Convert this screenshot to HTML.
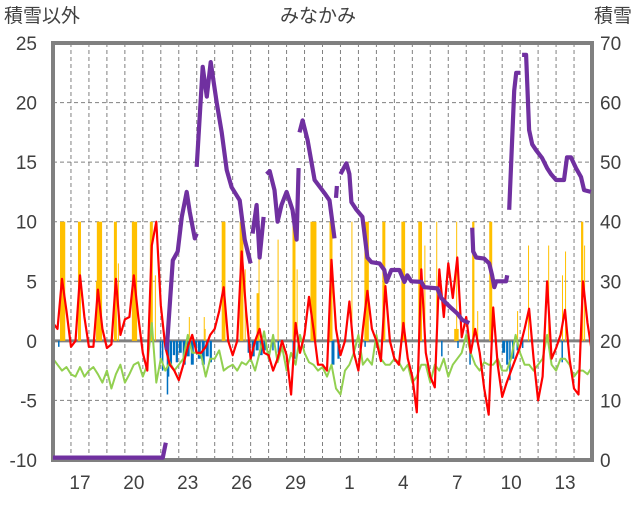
<!DOCTYPE html>
<html><head><meta charset="utf-8"><style>
body{margin:0;background:#fff;width:636px;height:501px;overflow:hidden}
svg text{font-family:"Liberation Sans","Noto Sans CJK JP",sans-serif;font-size:19px;fill:#404040}
</style></head><body>
<svg id="chart" width="636" height="501" xmlns="http://www.w3.org/2000/svg">
<g id="grid"></g>
<g id="bars"></g>
<g id="lines"></g>
<rect x="53" y="43" width="539" height="417" fill="none" stroke="#808080" stroke-width="4"/>
<g id="topLayer"></g>
<g id="labels"></g>
<text x="4" y="22">積雪以外</text>
<text x="318" y="22" text-anchor="middle">みなかみ</text>
<text x="632" y="22" text-anchor="end">積雪</text>
</svg>
<script>
const leftTicks=[25,20,15,10,5,0,-5,-10];
const rightTicks=[70,60,50,40,30,20,10,0];
const dayLabels=["17","20","23","26","29","1","4","7","10","13"];
const dayLabelIdx=[1,4,7,10,13,16,19,22,25,28];
const tempVals=[1.5,1,5.2,2.5,-0.5,0,5.5,2,-0.5,-0.5,4.3,1,-0.6,-0.3,5.2,0.5,1.8,2,5.5,2,-1,-2.5,8,10,3,-0.5,-2,-2.5,-3.3,-2,-0.5,0.5,-1,-1,-0.5,0.5,1,2.5,4.5,0,-1.2,0,7.5,2.5,-1.5,0,1,-1,-1.2,-2.5,-1.5,0,-1.2,-4.5,1.5,-1,0.5,3.7,1,-2,-2,-2.5,6.8,1,-1.2,0,3.3,-1,-2.5,1,4.2,1,0,-1.7,4.6,0,-1.5,-2,1.5,-1.5,-3,-6,6,-1,-3,-3.9,6,2,6.5,3.6,7,0.3,2,-1,1,-1,-4,-6.2,2.8,-2,-4.7,-3.5,-2.5,-1.5,-0.5,1,2.7,-1.5,-5,-3,5,-1.5,-0.6,0.5,2.6,-1.5,-4,-4.5,5,1.5,-1];
const greenVals=[-1.5,-2,-2.5,-2.2,-2.8,-3,-2.2,-3,-2.5,-2.2,-2.8,-3.5,-2.5,-4,-2.8,-2,-3.5,-2.8,-2,-1.8,-3,-2,1.5,-3.5,-1.5,-2.5,-1.8,-2.5,-2,-1.5,0.5,-1,-1,-1.2,-3,-1.5,-1.5,-0.8,-2.5,-2.2,-2,-2.5,-1.8,-2,-1.5,-2.5,-1,0.8,-1.5,0.5,-1.8,-0.5,-2.5,-1,-2,0.5,-1,-1.8,-2,-2.5,-2.2,-3,-2,-4,-4.5,-2.5,-2,-1,0.5,-2,-1.5,-2,0.5,-1.5,-2,-2,-1.5,-1.8,-2.5,-2,-3.5,-3,-2,-2,-3.5,-2,-2.5,-1.5,-3,-2,-1.5,-1,0.5,-1,-2,-2.5,-1.8,-2,-2,-1.5,-2.5,-2.5,-1.5,0.5,-1,-2,-2,-2.5,-2,-1.5,0.5,-2,-2.5,-1.5,-1.5,-2,-3,-2.5,-2.5,-2.8,-2.2];
const snowSegments=[
[[0,0.4],[6.11,0.4],[6.28,2.9]],
[[6.33,18.5],[6.67,33.5],[6.94,35],[7.17,40.8],[7.44,45],[7.61,41.7],[7.89,37.2],[8.0,38]],
[[8.0,49.2],[8.33,66],[8.56,61],[8.78,66.8],[9.11,60],[9.39,55],[9.67,48.7],[9.94,45.8],[10.39,43.6],[10.67,37],[11.0,33]],
[[11.11,38],[11.33,42.8],[11.5,34],[11.72,40.8]],
[[11.89,48],[12.06,48.5],[12.33,45.3],[12.5,40],[12.72,42.8],[13.0,45],[13.33,42],[13.56,37],[13.67,49]],
[[13.72,55],[13.89,57],[14.17,53.7],[14.56,47],[15.11,44.8],[15.39,43.6],[15.67,37.2]],
[[15.75,44],[15.8,46]],
[[16.0,48],[16.33,49.8],[16.5,48],[16.61,43.3],[16.89,42],[17.22,40.8],[17.5,34],[17.72,33.2],[18.17,33],[18.44,31.9],[18.56,29.9],[18.83,31.9],[19.28,31.9],[19.56,29.9],[19.72,31],[19.94,30],[20.5,29.9],[20.67,29],[21.39,28.8],[21.61,27.2],[21.89,26.3],[22.17,25.5],[22.5,24.6],[22.78,23.5],[23.17,23]],
[[23.33,39],[23.39,35],[23.56,34],[24.0,33.8],[24.28,33],[24.44,31],[24.56,29],[24.67,30],[25.22,30],[25.28,31]],
[[25.39,42],[25.67,62],[25.78,65],[26.0,65]],
[[26.11,68],[26.33,68],[26.5,55.4],[26.67,53],[26.89,52],[27.22,50.7],[27.5,49],[27.72,48],[28.0,47],[28.44,47],[28.61,50.8],[28.83,50.8],[29.11,49],[29.39,47.5],[29.56,45.3],[29.94,45]]];
const yellowStart=[0.39,1.39,2.39,2.44,3.39,3.61,4.39,5.39,5.67,7.56,8.39,8.44,9.39,10.39,10.67,11.33,11.44,12.5,13.33,13.56,14.33,15.39,16.61,17.33,18.33,19.39,20.33,20.67,21.33,22.33,22.44,23.33,23.61,24.28,25.83,26.44,27.56,28.33,28.5,29.39,29.56];
const yellowHours=[7,4,1,7,4,1,7,4,1,1,1,1,5,5,1,4,1,1,4,1,8,4,1,6,4,5,5,1,1,6,1,3,1,4,1,1,1,1,1,3,1];
const yellowVals=[10,10,5,10,10,6.5,10,10,5.5,2,2,1,10,10,6,4,8.5,8.5,10,6,10,10,10,10,10,10,10,8,10,1,10,10,2.5,10,2.5,8,8,5.5,7.5,10,8];
const blueStart=[0.28,5.94,6.06,6.33,6.39,6.5,6.67,6.83,7.0,7.22,7.44,7.67,7.89,8.06,8.28,8.5,8.72,10.83,11.06,11.28,11.5,11.72,12.2,12.5,13.33,15.5,15.83,17.33,21.6,22.5,23.17,25.0,25.22,25.39,25.55,25.8,26.1,28.3];
const blueHours=[1,2,2,1,2,3,3,3,4,4,4,4,3,4,4,4,3,4,4,4,4,3,2,2,4,4,3,1,2,1,1,4,3,2,3,2,2,2];
const blueVals=[-0.5,-1.5,-2.5,-4.5,-3,-2,-1.2,-1.8,-1,-2,-1.3,-2,-1,-1.5,-2,-1.3,-1.8,-1,-1.3,-0.8,-1.2,-0.8,-0.8,-1,-1.5,-2,-1.5,-0.5,-1.3,-0.6,-2,-1,-2,-3.3,-1.5,-0.8,-0.6,-1.8];

const X0=53,X1=592,Y0=43,Y1=460,NDAYS=30;
const xDay=d=>X0+(X1-X0)*d/NDAYS;
const yL=v=>Y1-(v+10)*(Y1-Y0)/35;
const yR=v=>Y1-v*(Y1-Y0)/70;
const NS="http://www.w3.org/2000/svg";
function mk(tag,parent,attrs){const e=document.createElementNS(NS,tag);for(const k in attrs)e.setAttribute(k,attrs[k]);parent.appendChild(e);return e;}
const grid=document.getElementById('grid'),bars=document.getElementById('bars'),lines=document.getElementById('lines'),labels=document.getElementById('labels'),topG=document.getElementById('topLayer');
leftTicks.forEach(v=>{
 if(v!==25&&v!==-10&&v!==0){const l=mk('line',grid,{x1:X0,x2:X1,y1:yL(v),y2:yL(v),stroke:'#808080','stroke-width':1,'stroke-dasharray':'4,3'});
 
 }
 const t=mk('text',labels,{x:37,y:yL(v)+7,'text-anchor':'end'});t.textContent=v;
 
 
});
rightTicks.forEach(v=>{const t=mk('text',labels,{x:600,y:yR(v)+7});t.textContent=v;
 
 });
for(let d=1;d<NDAYS;d++){const l=mk('line',grid,{x1:xDay(d),x2:xDay(d),y1:Y0,y2:Y1,stroke:'#808080','stroke-width':1,'stroke-dasharray':'4,3'});
 
 }
dayLabels.forEach((s,i)=>{const t=mk('text',labels,{x:xDay(dayLabelIdx[i]+0.5),y:489,'text-anchor':'middle'});t.textContent=s;
 
 });
yellowStart.forEach((s,i)=>{const w=Math.max(1,(X1-X0)/NDAYS*yellowHours[i]/24);
 const r=mk('rect',bars,{x:xDay(s),y:yL(yellowVals[i]),width:w,height:yL(0)-yL(yellowVals[i]),fill:'#ffc000'});
 
 });
blueStart.forEach((s,i)=>{const w=Math.max(1.5,(X1-X0)/NDAYS*blueHours[i]/24);
 const r=mk('rect',bars,{x:xDay(s),y:yL(0),width:w,height:yL(blueVals[i])-yL(0),fill:'#0070c0'});
 
 });
const zl=mk('line',grid,{x1:X0,x2:X1,y1:yL(0),y2:yL(0),stroke:'#808080','stroke-width':3});


function series(vals,color,w,name){const pts=vals.map((v,i)=>xDay(i*NDAYS/(vals.length-1)).toFixed(1)+','+yL(v).toFixed(1)).join(' ');
 const p=mk('polyline',lines,{points:pts,fill:'none',stroke:color,'stroke-width':w,'stroke-linejoin':'round'});
 
 }
series(greenVals,'#92d050',2,'green-series-line');
series(tempVals,'#ff0000',2.2,'temperature-line');
snowSegments.forEach(seg=>{const pts=seg.map(p=>xDay(p[0]).toFixed(1)+','+yR(p[1]).toFixed(1)).join(' ');
 const p=mk('polyline',topG,{points:pts,fill:'none',stroke:'#7030a0','stroke-width':4.2,'stroke-linejoin':'round'});
 
 });
</script>
</body></html>
